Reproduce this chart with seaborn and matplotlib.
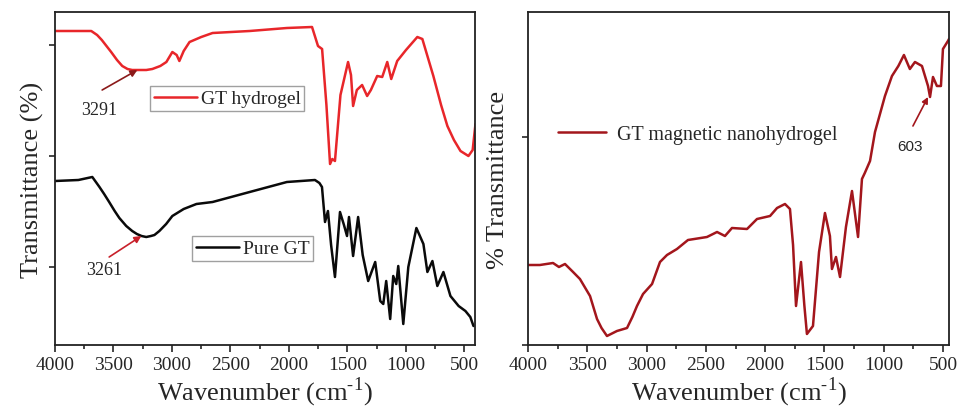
import numpy as np
import pandas as pd
import matplotlib
matplotlib.use("Agg")
import matplotlib.pyplot as plt
import seaborn as sns
from matplotlib.lines import Line2D

# ---- data (wavenumber cm-1, transmittance arbitrary units) ----
gt_hydrogel_wn = [4000, 3800, 3690, 3640, 3600, 3560, 3520, 3470, 3425, 3380, 3340, 3280, 3220, 3168, 3100,
                  3048, 2997, 2960, 2937, 2900, 2850, 2750,
                  2653, 2336, 2018, 1803, 1752, 1717, 1680, 1649, 1630, 1607, 1560, 1495, 1470, 1452, 1420, 1375,
                  1332, 1300, 1246, 1203, 1160, 1126, 1075, 1000, 903, 860, 766, 700, 646, 590, 534, 466, 430, 406]
gt_hydrogel_t = [314, 314, 314, 310, 305, 299, 293, 285, 279, 276, 275, 275, 275, 276, 279,
                 283, 293, 290, 284, 294, 303, 308,
                 312, 314, 317, 318, 299, 296, 240, 181, 186, 184, 250, 283, 270, 239, 255, 260,
                 249, 255, 269, 268, 283, 266, 284, 295, 308, 306, 269, 240, 219, 205, 194, 189, 195, 221]

pure_gt_wn = [4000, 3800, 3681, 3620, 3580, 3537, 3490, 3450, 3391, 3340, 3300, 3260, 3220, 3180, 3150,
              3108, 3050, 2997, 2900, 2791, 2653,
              2336, 2018, 1778, 1740, 1718, 1692, 1667, 1640, 1607, 1564, 1530, 1504, 1487, 1452, 1409,
              1370, 1323, 1263, 1220, 1194, 1169, 1135, 1109, 1083, 1066, 1023, 980, 911, 851, 817, 774,
              732, 680, 620, 550, 492, 450, 423]
pure_gt_t = [164, 165, 168, 158, 151, 143, 134, 127, 119, 114, 111, 109, 108, 109, 110,
             114, 121, 129, 136, 141, 143,
             153, 163, 165, 162, 158, 123, 134, 100, 68, 133, 120, 109, 128, 89, 128,
             90, 64, 83, 44, 41, 64, 26, 69, 61, 79, 21, 78, 117, 101, 73, 84,
             59, 73, 49, 39, 34, 28, 19]

gt_mag_wn = [4000, 3900, 3789, 3739, 3688, 3620, 3562, 3477, 3418, 3380, 3334, 3250, 3165, 3120, 3081, 3030, 2954,
             2887, 2828, 2744, 2651, 2491, 2406, 2339, 2280, 2153, 2069, 1959, 1900, 1833, 1791, 1765,
             1740, 1698, 1670, 1648, 1597, 1546, 1496, 1454, 1437, 1403, 1369, 1319, 1268, 1217, 1184,
             1160, 1116, 1074, 990, 931, 877, 830, 780, 737, 678, 627, 610, 585, 552, 518, 501, 459, 450]
gt_mag_t = [80, 80, 82, 78, 81, 73, 66, 49, 26, 17, 9, 14, 17, 28, 39, 51, 61,
            83, 90, 96, 105, 108, 113, 109, 117, 116, 126, 129, 137, 141, 136, 100,
            39, 83, 40, 11, 19, 93, 132, 109, 76, 88, 68, 118, 154, 108, 166,
            172, 184, 213, 249, 269, 279, 290, 276, 283, 279, 259, 248, 268, 259, 259, 296, 304, 306]

label_left = "GT hydrogel"
label_left2 = "Pure GT"
label_right = "GT magnetic nanohydrogel"

# ---- style ----
sns.set_theme(style="ticks")
plt.rcParams["font.family"] = ["Liberation Serif", "DejaVu Serif"]
plt.rcParams["mathtext.fontset"] = "custom"
plt.rcParams["mathtext.rm"] = "Liberation Serif"
plt.rcParams["axes.edgecolor"] = "#222222"
plt.rcParams["axes.linewidth"] = 1.3

RED = "#e8262a"
BLACK = "#0a0a0a"
DARKRED = "#a3161c"
ARROW1 = "#8b1a1a"
ARROW2 = "#c8202a"

fig = plt.figure(figsize=(9.57, 4.10), dpi=100)
W, H = 957, 410
axL = fig.add_axes([55 / W, 64 / H, 420 / W, 333 / H])
axR = fig.add_axes([528 / W, 64 / H, 421 / W, 333 / H])

dfL1 = pd.DataFrame({"wn": gt_hydrogel_wn, "t": gt_hydrogel_t})
dfL2 = pd.DataFrame({"wn": pure_gt_wn, "t": pure_gt_t})
dfR = pd.DataFrame({"wn": gt_mag_wn, "t": gt_mag_t})

sns.lineplot(data=dfL1, x="wn", y="t", ax=axL, color=RED, lw=1.8, sort=False, estimator=None)
sns.lineplot(data=dfL2, x="wn", y="t", ax=axL, color=BLACK, lw=1.8, sort=False, estimator=None)
sns.lineplot(data=dfR, x="wn", y="t", ax=axR, color=DARKRED, lw=1.8, sort=False, estimator=None)

xticks = [4000, 3500, 3000, 2500, 2000, 1500, 1000, 500]
minor = [3750, 3250, 2750, 2250, 1750, 1250, 750]
for ax, xr in ((axL, 410), (axR, 450)):
    ax.set_xlim(4000, xr)
    ax.set_ylim(0, 333)
    ax.set_xticks(xticks)
    ax.set_xticklabels([str(v) for v in xticks], fontsize=14)
    ax.set_xticks(minor, minor=True)
    ax.tick_params(axis="x", which="major", direction="out", length=5, width=1.2, pad=3)
    ax.tick_params(axis="x", which="minor", direction="out", length=3, width=1.2)
    ax.tick_params(axis="y", which="major", direction="out", length=4, width=1.2, labelleft=False)
    ax.set_xlabel("Wavenumber (cm$^{\\text{-1}}$)", fontsize=19, labelpad=1)
    for s in ax.spines.values():
        s.set_visible(True)

axL.set_yticks([78, 189, 300])
axR.set_yticks([0, 208])
axL.set_ylabel("Transmittance (%)", fontsize=19, labelpad=4)
axR.set_ylabel("% Transmittance", fontsize=19, labelpad=10)

# legends
leg1 = axL.legend(handles=[Line2D([], [], color=RED, lw=1.8)], labels=[label_left],
                  loc="upper left", bbox_to_anchor=(95 / 420, 1 - 74 / 333), fontsize=14,
                  frameon=True, fancybox=False, edgecolor="#888888", handlelength=2.2,
                  handletextpad=0.2, borderpad=0.2, borderaxespad=0)
leg1.get_frame().set_linewidth(1.0)
axL.add_artist(leg1)
leg2 = axL.legend(handles=[Line2D([], [], color=BLACK, lw=1.8)], labels=[label_left2],
                  loc="upper left", bbox_to_anchor=(137 / 420, 1 - 224 / 333), fontsize=14,
                  frameon=True, fancybox=False, edgecolor="#888888", handlelength=2.2,
                  handletextpad=0.2, borderpad=0.2, borderaxespad=0)
leg2.get_frame().set_linewidth(1.0)

axR.legend(handles=[Line2D([], [], color=DARKRED, lw=1.8)], labels=[label_right],
           loc="center left", bbox_to_anchor=(12 / 421, 1 - 122 / 333), fontsize=14.5,
           frameon=False, handlelength=2.4, handletextpad=0.5)

# annotations: arrows and labels
def arrow(ax, start, tip, color, ms=10):
    ax.annotate("", xy=tip, xytext=start,
                arrowprops=dict(arrowstyle="-|>", color=color, lw=1.2, mutation_scale=ms,
                                shrinkA=0, shrinkB=0))

arrow(axL, (3597, 255), (3296, 275), ARROW1)
axL.text(3622, 235, "3291", fontsize=13, ha="center", va="center")
arrow(axL, (3537, 88), (3262, 109), ARROW2)
axL.text(3580, 75, "3261", fontsize=13, ha="center", va="center")
arrow(axR, (754, 219), (627, 248), DARKRED, ms=9)
axR.text(779, 199, "603", fontsize=11, ha="center", va="center",
         family=["Liberation Sans", "DejaVu Sans"])

fig.savefig("out.png", dpi=100)
